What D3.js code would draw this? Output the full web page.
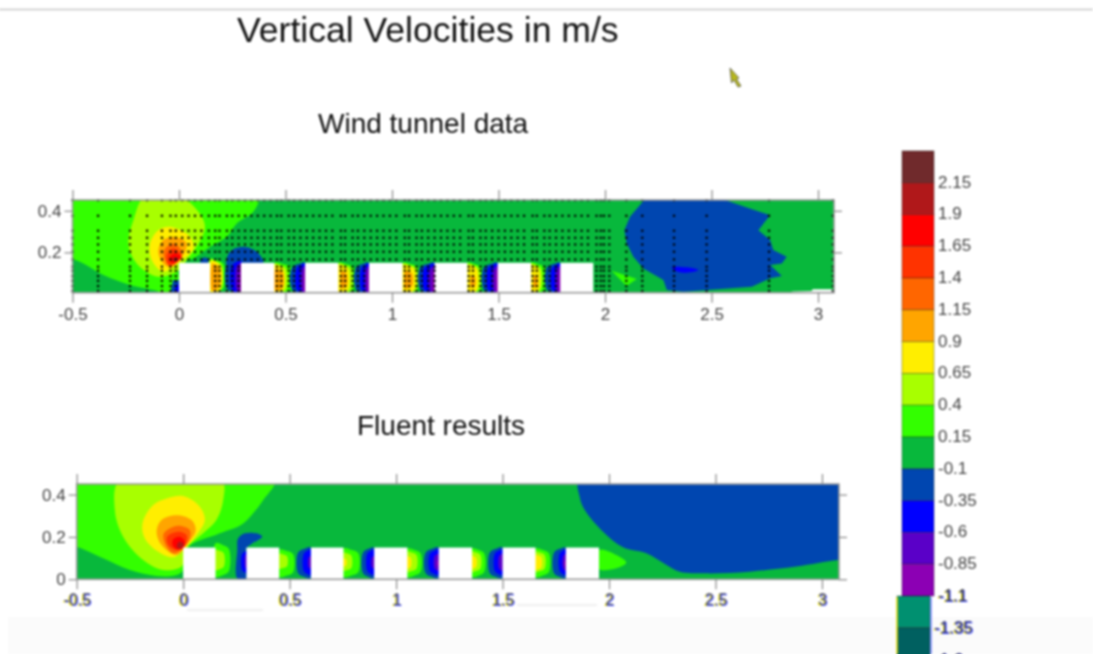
<!DOCTYPE html>
<html>
<head>
<meta charset="utf-8">
<script src="https://cdn.jsdelivr.net/npm/d3@7"></script>
<style>
html, body { margin: 0; padding: 0; background: #fff; }
svg { display: block; }
text { font-family: "Liberation Sans", Arial, sans-serif; }
</style>
</head>
<body>
<div id="chart"></div>
<script>
let width = 1093, height = 654;

// lower bound of each colour band, top of the colour bar first
let bandLows = [2.15, 1.9, 1.65, 1.4, 1.15, 0.9, 0.65, 0.4, 0.15, -0.1, -0.35, -0.6, -0.85, -1.1, -1.35, -1.6];
let bandColors = ["#702a2c", "#b0181a", "#ff0000", "#ff3300", "#ff6600", "#ffa500", "#ffee00", "#a8ff00",
    "#33ff00", "#08b83c", "#0046b0", "#0000ff", "#5a00c8", "#8c00b4", "#009070", "#006060"];
let barLabels = ["2.15", "1.9", "1.65", "1.4", "1.15", "0.9", "0.65", "0.4", "0.15", "-0.1", "-0.35", "-0.6", "-0.85", "-1.1", "-1.35", "-1.6"];

let xTicks = [-0.5, 0, 0.5, 1, 1.5, 2, 2.5, 3];
let xTickLabels = ["-0.5", "0", "0.5", "1", "1.5", "2", "2.5", "3"];
let yTicksTunnel = [0.2, 0.4];
let yTicksFluent = [0, 0.2, 0.4];

// wind tunnel blocks [x start, x end], height in blockTop
let blockTop = 0.15;
let tunnelBlocks = [[0, 0.146], [0.291, 0.448], [0.592, 0.748], [0.892, 1.05], [1.2, 1.354], [1.496, 1.653], [1.79, 1.945]];
let fluentBlocks = [[0, 0.152], [0.297, 0.451], [0.6, 0.753], [0.897, 1.053], [1.2, 1.357], [1.5, 1.655], [1.797, 1.953]];

// filled contours, each is [band low, outline in data units]
let tunnelLight = [[-0.52, 0.47], [0.37, 0.47], [0.349, 0.395], [0.271, 0.339], [0.224, 0.275], [0.146, 0.227], [0.067, 0.171], [0, 0.147], [0, -0.01], [-0.089, -0.01], [-0.089, 0.006], [-0.23, 0.043], [-0.355, 0.091], [-0.449, 0.147], [-0.5, 0.168], [-0.52, 0.17]];
let tunnelLime = [[-0.16, 0.47], [-0.214, 0.355], [-0.238, 0.243], [-0.199, 0.147], [-0.097, 0.083], [0, 0.115], [0.036, 0.163], [0.083, 0.227], [0.122, 0.323], [0.091, 0.395], [0.005, 0.47]];
let tunnelYellow = [[-0.042, 0.323], [0.052, 0.275], [0.067, 0.219], [0.005, 0.155], [-0.074, 0.107], [-0.128, 0.163], [-0.136, 0.243], [-0.097, 0.307]];
let tunnelOrange = [[-0.019, 0.275], [0.036, 0.243], [0.005, 0.163], [-0.042, 0.128], [-0.074, 0.147], [-0.097, 0.203], [-0.074, 0.259]];
let tunnelOrange2 = [[-0.027, 0.243], [0.013, 0.203], [-0.003, 0.163], [-0.042, 0.134], [-0.066, 0.163], [-0.069, 0.211]];
let tunnelOrange3 = [[-0.027, 0.219], [0.012, 0.187], [-0.019, 0.147], [-0.05, 0.139], [-0.058, 0.187]];
let tunnelRed = [[-0.019, 0.195], [0.012, 0.179], [-0.019, 0.15], [-0.042, 0.155], [-0.042, 0.182]];
let tunnelDark = [[-0.02, 0.178], [0, 0.168], [-0.02, 0.155], [-0.032, 0.165]];
let tunnelBlob = [[0.224, 0.139], [0.239, 0.203], [0.302, 0.227], [0.365, 0.203], [0.396, 0.15], [0.291, 0.145]];
let tunnelBlobLeft = [[0.1, 0.15], [0.105, 0.17], [0.125, 0.175], [0.14, 0.165], [0.14, 0.15]];
let tunnelFoot = [[-0.042, 0.0], [-0.027, 0.067], [0, 0.067], [0, 0.0]];
let tunnelFootCore = [[-0.025, 0.0], [-0.015, 0.045], [0, 0.045], [0, 0.0]];
let tunnelWake = [[2.199, 0.47], [2.509, 0.47], [2.775, 0.379], [2.72, 0.307], [2.775, 0.259], [2.79, 0.211], [2.853, 0.179], [2.83, 0.147], [2.775, 0.139], [2.83, 0.086], [2.775, 0.075], [2.689, 0.035], [2.368, 0.011], [2.29, 0.019], [2.274, 0.067], [2.18, 0.123], [2.133, 0.179], [2.102, 0.243], [2.091, 0.307], [2.117, 0.371]];
let tunnelWakeCore = [[2.313, 0.128], [2.383, 0.128], [2.438, 0.115], [2.383, 0.102], [2.328, 0.112]];
let tunnelSliver = [[2.031, 0.112], [2.149, 0.072], [2.101, 0.038]];
let tunnelFloorGap = [[2.821, 0.0], [2.884, 0.012], [2.97, 0.014], [2.975, 0.022], [3.064, 0.022], [3.08, 0.0]];

let fluentLight = [[-0.52, 0.47], [0.43, 0.47], [0.376, 0.375], [0.282, 0.264], [0.172, 0.217], [0.016, 0.145], [0, 0.044], [-0.031, 0.02], [-0.125, 0.016], [-0.25, 0.044], [-0.376, 0.099], [-0.5, 0.154], [-0.52, 0.155]];
let fluentLime = [[-0.297, 0.47], [0.18, 0.47], [0.188, 0.374], [0.156, 0.28], [0.094, 0.217], [0.016, 0.146], [-0.008, 0.06], [-0.094, 0.044], [-0.188, 0.091], [-0.282, 0.201], [-0.321, 0.327]];
let fluentYellow = [[0, 0.393], [0.078, 0.343], [0.102, 0.28], [0.063, 0.209], [0.008, 0.146], [-0.047, 0.104], [-0.117, 0.13], [-0.18, 0.193], [-0.191, 0.264], [-0.141, 0.351], [-0.078, 0.382]];
let fluentOrange = [[-0.031, 0.303], [0.039, 0.28], [0.059, 0.233], [0.016, 0.162], [-0.031, 0.115], [-0.102, 0.162], [-0.125, 0.225], [-0.102, 0.28]];
let fluentOrange2 = [[-0.031, 0.252], [0.031, 0.233], [0.031, 0.193], [0, 0.146], [-0.047, 0.123], [-0.086, 0.17], [-0.091, 0.217]];
let fluentOrange3 = [[-0.023, 0.225], [0.016, 0.209], [0.008, 0.162], [-0.031, 0.138], [-0.07, 0.162], [-0.075, 0.201]];
let fluentRed = [[-0.016, 0.201], [0.008, 0.178], [-0.003, 0.146], [-0.031, 0.142], [-0.05, 0.162], [-0.047, 0.189]];
let fluentDark = [[-0.016, 0.178], [0.003, 0.165], [-0.008, 0.146], [-0.028, 0.15], [-0.028, 0.165]];
let fluentBlob = [[0.254, 0.005], [0.254, 0.138], [0.258, 0.193], [0.29, 0.217], [0.344, 0.217], [0.371, 0.201], [0.321, 0.167], [0.297, 0.146], [0.297, 0.005]];
let fluentAfter = [[1.953, 0.138], [2.034, 0.115], [2.081, 0.079], [2.034, 0.052], [1.953, 0.049]];
let fluentWake = [[1.862, 0.47], [3.2, 0.47], [3.2, 0.09], [3.078, 0.091], [2.88, 0.06], [2.66, 0.036], [2.457, 0.028], [2.332, 0.036], [2.27, 0.068], [2.175, 0.123], [2.066, 0.151], [1.972, 0.225], [1.886, 0.327], [1.862, 0.39]];

// bands in the gaps between blocks: [band low, x from, x to, top, bottom]
let tunnelGapBands = [
    [0.15, 0.146, 0.21, 0.17, 0], [0.4, 0.146, 0.2, 0.165, 0], [0.65, 0.152, 0.197, 0.16, 0], [0.9, 0.156, 0.19, 0.145, 0.015],
    [-0.35, 0.224, 0.291, 0.17, 0], [-0.6, 0.247, 0.291, 0.16, 0], [-0.85, 0.268, 0.291, 0.15, 0], [-1.1, 0.283, 0.291, 0.14, 0],
    [0.15, 0.448, 0.529, 0.15, 0], [0.4, 0.448, 0.505, 0.145, 0], [0.65, 0.45, 0.492, 0.14, 0], [0.9, 0.452, 0.487, 0.12, 0.015],
    [-0.35, 0.529, 0.592, 0.15, 0], [-0.6, 0.552, 0.592, 0.145, 0], [-0.85, 0.575, 0.592, 0.135, 0], [-1.1, 0.585, 0.592, 0.12, 0],
    [0.15, 0.748, 0.822, 0.15, 0], [0.4, 0.748, 0.81, 0.145, 0], [0.65, 0.752, 0.795, 0.14, 0], [0.9, 0.762, 0.787, 0.11, 0.025],
    [-0.35, 0.83, 0.892, 0.15, 0], [-0.6, 0.855, 0.892, 0.145, 0], [-0.85, 0.875, 0.892, 0.135, 0], [-1.1, 0.885, 0.892, 0.12, 0],
    [0.15, 1.05, 1.125, 0.15, 0], [0.4, 1.05, 1.115, 0.145, 0], [0.65, 1.055, 1.105, 0.14, 0], [0.9, 1.062, 1.095, 0.11, 0.025],
    [-0.35, 1.13, 1.2, 0.15, 0], [-0.6, 1.15, 1.2, 0.145, 0], [-0.85, 1.175, 1.2, 0.135, 0], [-1.1, 1.19, 1.2, 0.12, 0],
    [0.15, 1.354, 1.421, 0.15, 0], [0.4, 1.354, 1.41, 0.145, 0], [0.65, 1.36, 1.4, 0.14, 0], [0.9, 1.372, 1.39, 0.09, 0.03],
    [-0.35, 1.429, 1.496, 0.15, 0], [-0.6, 1.45, 1.496, 0.145, 0], [-0.85, 1.475, 1.496, 0.135, 0], [-1.1, 1.487, 1.496, 0.12, 0],
    [0.15, 1.653, 1.718, 0.15, 0], [0.4, 1.653, 1.7, 0.145, 0], [0.65, 1.655, 1.69, 0.14, 0], [0.9, 1.668, 1.682, 0.09, 0.03],
    [-0.35, 1.726, 1.79, 0.15, 0], [-0.6, 1.75, 1.79, 0.145, 0], [-0.85, 1.77, 1.79, 0.135, 0], [-1.1, 1.782, 1.79, 0.12, 0]
];
let fluentGapBands = [
    [0.15, 0.152, 0.214, 0.17, 0.012], [0.4, 0.152, 0.191, 0.138, 0.044],
    [-0.6, 0.275, 0.297, 0.133, 0.03], [-0.85, 0.29, 0.297, 0.12, 0.05],
    [0.15, 0.451, 0.516, 0.14, 0.012], [0.4, 0.451, 0.488, 0.12, 0.05],
    [-0.35, 0.54, 0.6, 0.15, 0.005], [-0.6, 0.566, 0.6, 0.14, 0.02], [-0.85, 0.588, 0.6, 0.11, 0.05],
    [0.15, 0.753, 0.822, 0.145, 0.012], [0.4, 0.753, 0.79, 0.125, 0.04], [0.65, 0.753, 0.767, 0.1, 0.06],
    [-0.35, 0.845, 0.897, 0.15, 0.005], [-0.6, 0.864, 0.897, 0.14, 0.02], [-0.85, 0.885, 0.897, 0.11, 0.05],
    [0.15, 1.053, 1.114, 0.145, 0.012], [0.4, 1.053, 1.096, 0.13, 0.035], [0.65, 1.053, 1.07, 0.11, 0.05],
    [-0.35, 1.139, 1.2, 0.15, 0.005], [-0.6, 1.158, 1.2, 0.14, 0.02], [-0.85, 1.18, 1.2, 0.12, 0.04], [-1.1, 1.192, 1.2, 0.09, 0.06],
    [0.15, 1.357, 1.413, 0.145, 0.012], [0.4, 1.357, 1.396, 0.13, 0.035], [0.65, 1.357, 1.377, 0.11, 0.05],
    [-0.35, 1.44, 1.5, 0.15, 0.005], [-0.6, 1.463, 1.5, 0.14, 0.02], [-0.85, 1.483, 1.5, 0.12, 0.04],
    [0.15, 1.655, 1.717, 0.145, 0.012], [0.4, 1.655, 1.698, 0.13, 0.035], [0.65, 1.655, 1.682, 0.115, 0.045],
    [-0.35, 1.742, 1.797, 0.15, 0.005], [-0.6, 1.768, 1.797, 0.14, 0.02], [-0.85, 1.784, 1.797, 0.12, 0.04], [-1.1, 1.79, 1.797, 0.09, 0.06]
];

// measurement points of the wind tunnel traverse
let probeCols = [-0.5, -0.38, -0.23, -0.15, -0.08, -0.04, -0.015, 0.015, 0.045, 0.075, 0.105, 0.14, 0.17, 0.19, 0.225, 0.25, 0.28, 0.31, 0.34, 0.37, 0.4, 0.43, 0.46, 0.48, 0.515, 0.54, 0.57, 0.6, 0.63, 0.66, 0.69, 0.72, 0.76, 0.78, 0.815, 0.84, 0.87, 0.9, 0.93, 0.96, 0.99, 1.02, 1.06, 1.08, 1.115, 1.14, 1.17, 1.2, 1.23, 1.26, 1.29, 1.32, 1.36, 1.38, 1.415, 1.44, 1.47, 1.5, 1.53, 1.56, 1.59, 1.62, 1.66, 1.68, 1.715, 1.74, 1.77, 1.8, 1.83, 1.86, 1.89, 1.92, 1.96, 1.98, 1.995, 2.02, 2.1, 2.175, 2.324, 2.477, 2.77, 3.07];
let probeRows = [0.451, 0.376, 0.304, 0.27, 0.238, 0.203, 0.166, 0.131, 0.112, 0.086, 0.063, 0.038, 0.014];

let tunnelLayers = [
    [0.15, tunnelLight, true], [0.4, tunnelLime, true], [0.65, tunnelYellow, true], [0.9, tunnelOrange, true],
    [1.15, tunnelOrange2, true], [1.4, tunnelOrange3, true], [1.65, tunnelRed, true], [1.9, tunnelDark, true],
    [-0.35, tunnelBlob, true], [-0.35, tunnelBlobLeft, true], [-0.35, tunnelFoot, false], [-0.6, tunnelFootCore, false],
    [-0.35, tunnelWake, false], [-0.6, tunnelWakeCore, true], [0.15, tunnelSliver, false]
];
let fluentLayers = [
    [0.15, fluentLight, true], [0.4, fluentLime, true], [0.65, fluentYellow, true], [0.9, fluentOrange, true],
    [1.15, fluentOrange2, true], [1.4, fluentOrange3, true], [1.65, fluentRed, true], [1.9, fluentDark, true],
    [-0.35, fluentBlob, true], [0.15, fluentAfter, true], [-0.35, fluentWake, true]
];

let svg = d3.select("#chart").append("svg")
    .attr("width", width)
    .attr("height", height)
    .attr("viewBox", "0 0 " + width + " " + height);

let defs = svg.append("defs");

// the reference is a soft video frame
defs.append("filter").attr("id", "soft")
    .attr("filterUnits", "userSpaceOnUse")
    .attr("x", 0).attr("y", 0).attr("width", width).attr("height", height)
    .attr("color-interpolation-filters", "sRGB")
    .append("feGaussianBlur").attr("stdDeviation", 0.85);

// yellow and blue fringes on the broken labels
let fringe = defs.append("filter").attr("id", "fringe")
    .attr("color-interpolation-filters", "sRGB")
    .attr("x", "-30%").attr("y", "-30%").attr("width", "160%").attr("height", "160%");
fringe.append("feOffset").attr("in", "SourceAlpha").attr("dx", -1.5).attr("dy", 1).attr("result", "a");
fringe.append("feFlood").attr("flood-color", "#f2e600");
fringe.append("feComposite").attr("in2", "a").attr("operator", "in").attr("result", "yellow");
fringe.append("feOffset").attr("in", "SourceAlpha").attr("dx", 1).attr("dy", 0.5).attr("result", "b");
fringe.append("feFlood").attr("flood-color", "#3a46ff");
fringe.append("feComposite").attr("in2", "b").attr("operator", "in").attr("result", "blue");
let merge = fringe.append("feMerge");
merge.append("feMergeNode").attr("in", "yellow");
merge.append("feMergeNode").attr("in", "blue");
merge.append("feMergeNode").attr("in", "SourceGraphic");

svg.append("rect").attr("width", width).attr("height", height).attr("fill", "#fff");

let root = svg.append("g").attr("filter", "url(#soft)");

// faint strip at the bottom of the frame
root.append("rect")
    .attr("x", 8).attr("y", 617).attr("width", width - 8).attr("height", height - 617)
    .attr("fill", "#fbfbfb");
root.append("line")
    .attr("x1", 0).attr("x2", width).attr("y1", 9.5).attr("y2", 9.5)
    .attr("stroke", "#aaa").attr("stroke-width", 1.5).attr("stroke-dasharray", "2 1");

function title(txt, x, y, size) {
    root.append("text").attr("x", x).attr("y", y)
        .attr("font-size", size).attr("fill", "#111").text(txt);
}
title("Vertical Velocities in m/s", 237, 42, 35.6);
title("Wind tunnel data", 318, 133, 28);
title("Fluent results", 357, 435, 28);

let color = d3.scaleOrdinal(bandLows, bandColors);

function drawPanel(id, opts) {
    let x = d3.scaleLinear().domain(opts.xDomain).range(opts.xRange);
    let y = d3.scaleLinear().domain(opts.yDomain).range(opts.yRange);
    let g = root.append("g").attr("id", id);

    defs.append("clipPath").attr("id", id + "-clip").append("rect")
        .attr("x", x.range()[0]).attr("y", y.range()[1])
        .attr("width", x.range()[1] - x.range()[0])
        .attr("height", y.range()[0] - y.range()[1]);

    let field = g.append("g").attr("clip-path", "url(#" + id + "-clip)");

    field.append("rect")
        .attr("x", x.range()[0]).attr("y", y.range()[1])
        .attr("width", x.range()[1] - x.range()[0])
        .attr("height", y.range()[0] - y.range()[1])
        .attr("fill", color(-0.1));

    let smooth = d3.line().x(d => x(d[0])).y(d => y(d[1])).curve(d3.curveCatmullRomClosed.alpha(0.5));
    let sharp = d3.line().x(d => x(d[0])).y(d => y(d[1])).curve(d3.curveLinearClosed);

    field.selectAll("path.contour").data(opts.layers).join("path")
        .attr("class", "contour")
        .attr("d", d => d[2] ? smooth(d[1]) : sharp(d[1]))
        .attr("fill", d => color(d[0]));

    // domes in the gaps, rounded on the free side
    field.selectAll("path.gap").data(opts.gapBands).join("path")
        .attr("class", "gap")
        .attr("d", d => {
            let [low, x0, x1, top, bottom] = d;
            let warm = low > 0;
            let inner = warm ? x0 : x1, outer = warm ? x1 : x0;
            let mid = (inner + outer) / 2;
            let pad = (top - bottom) * 0.16;
            return smooth([[inner, bottom], [inner, top], [mid, top - pad * 0.25], [outer, top - pad],
                [outer, bottom + pad], [mid, bottom + pad * 0.25]]);
        })
        .attr("fill", d => color(d[0]));

    field.selectAll("rect.block").data(opts.blocks).join("rect")
        .attr("class", "block")
        .attr("x", d => x(d[0]))
        .attr("width", d => x(d[1]) - x(d[0]))
        .attr("y", y(blockTop))
        .attr("height", y(y.domain()[0]) - y(blockTop) + 2)
        .attr("fill", "#fff");

    if (opts.floorGap) {
        field.append("path").attr("d", sharp(opts.floorGap)).attr("fill", "#fff");
    }

    if (opts.probes) {
        let pts = d3.cross(probeCols, probeRows)
            .filter(p => !(p[1] < blockTop && opts.blocks.some(b => p[0] > b[0] && p[0] < b[1])));
        g.append("g").selectAll("rect").data(pts).join("rect")
            .attr("x", d => x(d[0]) - 1.1)
            .attr("y", d => y(d[1]) - 1.1)
            .attr("width", 2.2).attr("height", 2.2)
            .attr("fill", "#000");
    }

    g.append("rect")
        .attr("x", x.range()[0]).attr("y", y.range()[1])
        .attr("width", x.range()[1] - x.range()[0])
        .attr("height", y.range()[0] - y.range()[1])
        .attr("fill", "none").attr("stroke", "#999").attr("stroke-width", 1.6);

    let axes = [
        d3.axisBottom(x).tickValues(xTicks).tickFormat((d, i) => xTickLabels[i]).tickSize(10).tickPadding(opts.xPad),
        d3.axisTop(x).tickValues(xTicks).tickFormat("").tickSize(10),
        d3.axisLeft(y).tickValues(opts.yTicks).tickFormat(d3.format("~g")).tickSize(8).tickPadding(3),
        d3.axisRight(y).tickValues(opts.yTicks).tickFormat("").tickSize(8)
    ];
    let places = [
        [0, y.range()[0]], [0, y.range()[1]], [x.range()[0], 0], [x.range()[1], 0]
    ];
    axes.forEach((axis, i) => {
        let a = g.append("g")
            .attr("transform", "translate(" + places[i][0] + "," + places[i][1] + ")")
            .call(axis);
        a.select(".domain").remove();
        a.selectAll("line").attr("stroke", "#888").attr("stroke-width", 1.2);
        a.selectAll("text").attr("font-size", 17).attr("fill", "#444")
            .attr("font-family", '"Liberation Sans", Arial, sans-serif');
    });
    return g;
}

drawPanel("tunnel", {
    xDomain: [-0.5, 3.075], xRange: [72.5, 834],
    yDomain: [0.006, 0.452], yRange: [292.7, 200],
    yTicks: yTicksTunnel, xPad: 5,
    layers: tunnelLayers, gapBands: tunnelGapBands, blocks: tunnelBlocks, probes: true,
    floorGap: tunnelFloorGap
});

let fluent = drawPanel("fluent", {
    xDomain: [-0.5, 3.08], xRange: [76.7, 839],
    yDomain: [0, 0.45], yRange: [579.3, 484],
    yTicks: yTicksFluent, xPad: 4,
    layers: fluentLayers, gapBands: fluentGapBands, blocks: fluentBlocks, probes: false
});

// bottom labels of the lower panel are broken up in the frame
fluent.selectAll("g.tick text")
    .filter(function () { return +this.getAttribute("y") > 0; })
    .attr("fill", "#666")
    .attr("font-size", 16)
    .attr("filter", "url(#fringe)");

// faint capture lines under the lower axis
root.append("line").attr("x1", 187).attr("x2", 263).attr("y1", 610).attr("y2", 610)
    .attr("stroke", "#e0e0e0");
root.append("line").attr("x1", 517).attr("x2", 597).attr("y1", 605).attr("y2", 605)
    .attr("stroke", "#e0e0e0");

// colour bar
let barY = d3.scaleLinear().domain([2.15, -1.1]).range([182.7, 596]);
let barStep = 0.25;

let bar = root.append("g").attr("id", "colorbar");
bar.selectAll("rect").data(bandLows).join("rect")
    .attr("x", d => d <= -1.35 ? 897 : 902)
    .attr("width", d => d <= -1.35 ? 33 : 32)
    .attr("y", d => barY(d + barStep))
    .attr("height", d => barY(d) - barY(d + barStep))
    .attr("fill", d => color(d))
    .attr("stroke", "#000").attr("stroke-opacity", 0.3).attr("stroke-width", 1);

// the two lowest cells sit on the shifted part of the frame
bar.append("line").attr("x1", 897).attr("x2", 897).attr("y1", 597).attr("y2", height)
    .attr("stroke", "#f2e600").attr("stroke-width", 1.5);
bar.append("line").attr("x1", 931).attr("x2", 931).attr("y1", 597).attr("y2", height)
    .attr("stroke", "#6f7cff").attr("stroke-width", 1.5);

bar.selectAll("text").data(bandLows).join("text")
    .attr("x", d => d <= -1.35 ? 934 : 938)
    .attr("y", d => barY(d) - 1)
    .attr("dy", "0.35em")
    .attr("font-size", 17)
    .attr("fill", d => d <= -1.35 ? "#3d3f7a" : "#444")
    .attr("filter", d => d === -1.1 || d <= -1.35 ? "url(#fringe)" : null)
    .text((d, i) => barLabels[i]);

// mouse pointer caught in the frame
let pointer = [[730, 68], [739, 78], [736.5, 79], [741, 86], [738, 87], [734, 80], [731.5, 83]];
root.append("path")
    .attr("d", d3.line().curve(d3.curveLinearClosed)(pointer))
    .attr("fill", "#b8b81c").attr("stroke", "#444").attr("stroke-width", 0.7);
</script>
</body>
</html>
